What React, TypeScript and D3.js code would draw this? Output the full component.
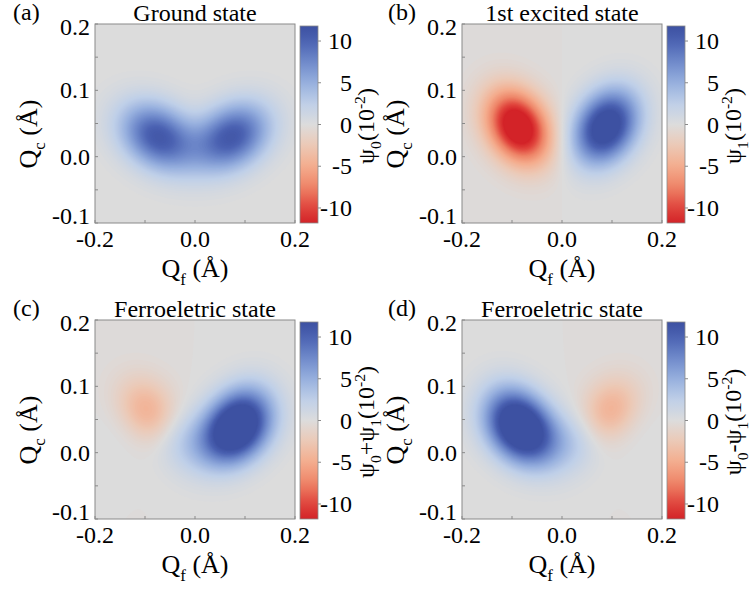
import React, { useMemo } from "react";
import * as d3 from "d3";

// ---------- data ----------
const panelLabels = ["(a)", "(b)", "(c)", "(d)"];
const titles = ["Ground state", "1st excited state", "Ferroeletric state", "Ferroeletric state"];
const qfDomain = [-0.2, 0.2];
const qcDomain = [-0.1, 0.2];
const qfTickLabels = [-0.2, 0.0, 0.2];
const qfTickMarks = [-0.2, -0.1, 0.0, 0.1, 0.2];
const qcTickLabels = [-0.1, 0.0, 0.1, 0.2];
const qcTickMarks = [-0.1, -0.05, 0.0, 0.05, 0.1, 0.15, 0.2];
const cbDomain = [-11.8, 11.8];
const cbTicks = [-10, -5, 0, 5, 10];

// wavefunction lobes (right-hand lobe; left lobe is its mirror image)
// centre Qf, centre Qc, amplitude (10^-2), sigma major / minor (plot fractions), tilt (deg)
const groundLobe = { qf: 0.074, qc: 0.03, amp: 11, sMaj: 0.14, sMin: 0.105, tilt: 35 };
const excitedLobe = { qf: 0.088, qc: 0.045, amp: 14.5, sMaj: 0.135, sMin: 0.1, tilt: 60 };

// colormap stops
const cmapValues = [-12, -10, -7.5, -5, -2.5, 0, 2.5, 5, 7.5, 10, 12];
const cmapColors = ["#d11f26", "#e0443c", "#ee8467", "#f4ad8e", "#ecc9b6", "#dcdcdc",
  "#bfcfe8", "#96afde", "#6f8acb", "#4b62b2", "#3c4fa0"];

// ---------- layout ----------
const W = 200, H = 199;
const colX = [95, 462];
const rowY = [24, 320];
const FONT = "'Liberation Serif', 'Times New Roman', serif";
const AX = "#8a8a8a";

const color = d3.scaleLinear<string>().domain(cmapValues).range(cmapColors)
  .interpolate(d3.interpolateRgb).clamp(true);

function lobe(p: typeof groundLobe, qf: number, qc: number) {
  const u = (qf - p.qf) / (qfDomain[1] - qfDomain[0]);
  const v = (qc - p.qc) / (qcDomain[1] - qcDomain[0]);
  const a = (p.tilt * Math.PI) / 180;
  const m = u * Math.cos(a) + v * Math.sin(a);
  const n = -u * Math.sin(a) + v * Math.cos(a);
  return p.amp * Math.exp(-(m * m) / (2 * p.sMaj * p.sMaj) - (n * n) / (2 * p.sMin * p.sMin));
}
const psi0 = (qf: number, qc: number) => lobe(groundLobe, qf, qc) + lobe(groundLobe, -qf, qc);
const psi1 = (qf: number, qc: number) => lobe(excitedLobe, qf, qc) - lobe(excitedLobe, -qf, qc);
const fields = [
  psi0,
  psi1,
  (a: number, b: number) => (psi0(a, b) + psi1(a, b)) / Math.SQRT2,
  (a: number, b: number) => (psi0(a, b) - psi1(a, b)) / Math.SQRT2,
];
const cbLabels = [
  [["ψ", ""], ["0", "sub"], ["(10", ""], ["-2", "sup"], [")", ""]],
  [["ψ", ""], ["1", "sub"], ["(10", ""], ["-2", "sup"], [")", ""]],
  [["ψ", ""], ["0", "sub"], ["+ψ", ""], ["1", "sub"], ["(10", ""], ["-2", "sup"], [")", ""]],
  [["ψ", ""], ["0", "sub"], ["-ψ", ""], ["1", "sub"], ["(10", ""], ["-2", "sup"], [")", ""]],
];

const NX = 160, NY = 160;
const thresholds = d3.range(cbDomain[0], cbDomain[1] + 0.001, 0.2);

function RichText({ parts, size }: { parts: string[][]; size: number }) {
  let shift = 0;
  return (
    <>
      {parts.map(([t, kind], i) => {
        const target = kind === "sub" ? size * 0.3 : kind === "sup" ? -size * 0.38 : 0;
        const dy = target - shift;
        shift = target;
        return (
          <tspan key={i} dy={dy} fontSize={kind ? size * 0.65 : size}>{t}</tspan>
        );
      })}
    </>
  );
}

function Panel({ idx }: { idx: number }) {
  const px = colX[idx % 2];
  const py = rowY[Math.floor(idx / 2)];
  const x = d3.scaleLinear().domain(qfDomain).range([px, px + W]);
  const y = d3.scaleLinear().domain(qcDomain).range([py + H, py]);
  const cbx = px + 205, cbw = 18;
  const cby = d3.scaleLinear().domain(cbDomain).range([py + H, py + 2]);

  const paths = useMemo(() => {
    const f = fields[idx];
    const vals = new Float64Array(NX * NY);
    for (let j = 0; j < NY; j++) {
      const qc = qcDomain[1] - ((j + 0.5) / NY) * (qcDomain[1] - qcDomain[0]);
      for (let i = 0; i < NX; i++) {
        const qf = qfDomain[0] + ((i + 0.5) / NX) * (qfDomain[1] - qfDomain[0]);
        vals[j * NX + i] = f(qf, qc);
      }
    }
    const cs = d3.contours().size([NX, NY]).thresholds(thresholds)(Array.from(vals));
    const gp = d3.geoPath();
    return cs.map((c) => ({ d: gp(c as any) || "", v: c.value }));
  }, [idx]);

  const gradId = `cb${idx}`;
  const stops = d3.range(0, 1.0001, 0.05);
  const labelX = idx % 2 === 0 ? 13 : 388;

  return (
    <g style={{ fontFamily: FONT }}>
      <defs>
        <linearGradient id={gradId} x1="0" y1="1" x2="0" y2="0">
          {stops.map((s) => (
            <stop key={s} offset={s} stopColor={color(cbDomain[0] + s * (cbDomain[1] - cbDomain[0]))} />
          ))}
        </linearGradient>
        <clipPath id={`clip${idx}`}>
          <rect x={px} y={py} width={W} height={H} />
        </clipPath>
      </defs>
      <g clipPath={`url(#clip${idx})`}>
        <rect x={px} y={py} width={W} height={H} fill={color(cbDomain[0])} />
        <g transform={`translate(${px},${py}) scale(${W / NX},${H / NY})`}>
          {paths.map((p, k) => (
            <path key={k} d={p.d} fill={color(p.v)} />
          ))}
        </g>
      </g>
      <rect x={px} y={py} width={W} height={H} fill="none" stroke={AX} strokeWidth={1} />
      {qfTickMarks.map((t) => (
        <line key={t} x1={x(t)} x2={x(t)} y1={py + H} y2={py + H - 3} stroke={AX} />
      ))}
      {qcTickMarks.map((t) => (
        <line key={t} x1={px} x2={px + 3} y1={y(t)} y2={y(t)} stroke={AX} />
      ))}
      {qfTickLabels.map((t) => (
        <text key={t} x={x(t)} y={py + H + 24} textAnchor="middle" fontSize={24}>
          {d3.format(".1f")(t).replace("−", "-")}
        </text>
      ))}
      {qcTickLabels.map((t) => (
        <text key={t} x={px - 5} y={Math.min(Math.max(y(t), py + 3), py + H - 7) + 8}
          textAnchor="end" fontSize={24}>
          {d3.format(".1f")(t).replace("−", "-")}
        </text>
      ))}
      <text x={px + W / 2} y={py + H + 54} textAnchor="middle" fontSize={26}>
        <RichText size={26} parts={[["Q", ""], ["f", "sub"], [" (Å)", ""]]} />
      </text>
      <text transform={`translate(${px - 58},${py + 110}) rotate(-90)`} textAnchor="middle" fontSize={26}>
        <RichText size={26} parts={[["Q", ""], ["c", "sub"], [" (Å)", ""]]} />
      </text>
      <text x={px + W / 2} y={py - 3} textAnchor="middle" fontSize={24}>{titles[idx]}</text>
      <text x={labelX} y={py - 4} fontSize={24}>{panelLabels[idx]}</text>
      <rect x={cbx} y={py + 2} width={cbw} height={H - 2} fill={`url(#${gradId})`} stroke={AX} strokeWidth={0.8} />
      {cbTicks.map((t) => (
        <g key={t}>
          <line x1={cbx + cbw} x2={cbx + cbw + 3} y1={cby(t)} y2={cby(t)} stroke={AX} />
          <text x={cbx + cbw + 34} y={cby(t) + 8} textAnchor="end" fontSize={24}>{String(t)}</text>
        </g>
      ))}
      <text transform={`translate(${cbx + 74},${py + 102}) rotate(-90)`} textAnchor="middle" fontSize={24}>
        <RichText size={24} parts={cbLabels[idx]} />
      </text>
    </g>
  );
}

export default function App() {
  return (
    <svg width={751} height={590} style={{ display: "block", margin: 0, position: "absolute", left: 0, top: 0, background: "#fff", fontFamily: FONT }}>
      <rect width={751} height={590} fill="#fff" />
      {[0, 1, 2, 3].map((i) => <Panel key={i} idx={i} />)}
    </svg>
  );
}
